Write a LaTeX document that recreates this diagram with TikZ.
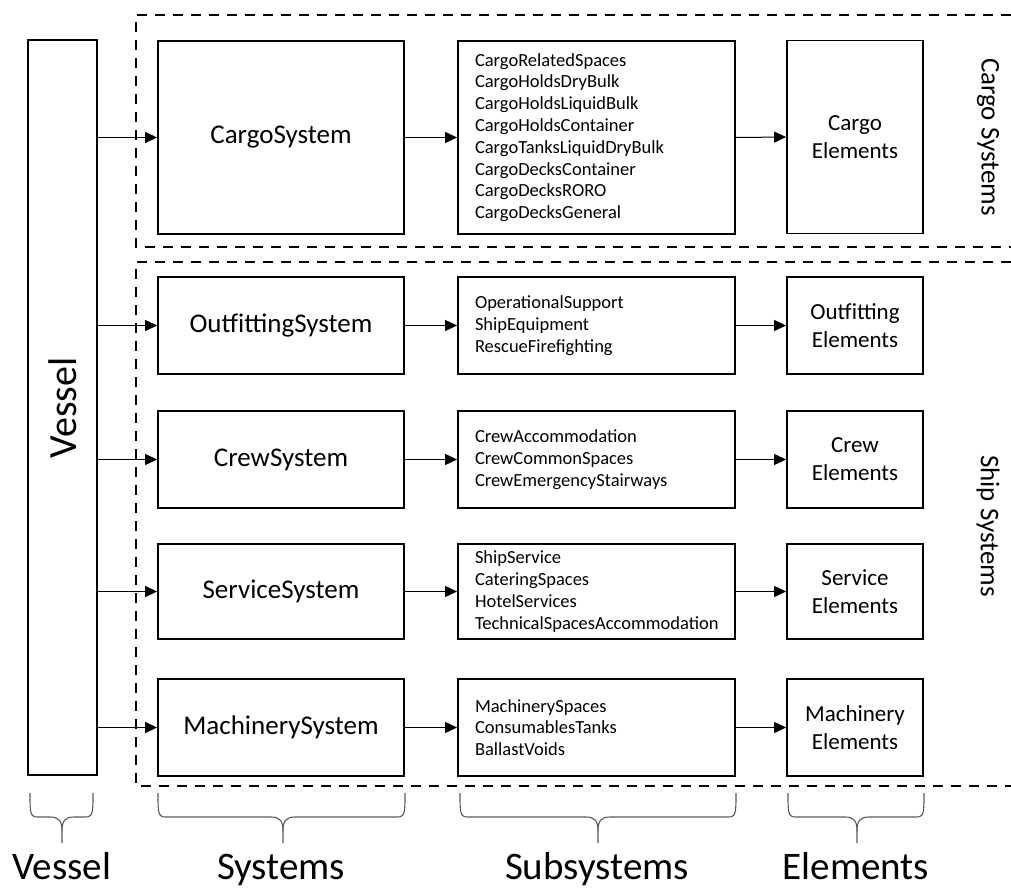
\documentclass[tikz,border=0pt]{standalone}
\usepackage{fontspec}
\setmainfont{Carlito}
\usetikzlibrary{arrows.meta}
\begin{document}
\begin{tikzpicture}[x=1pt,y=-1pt,
  sysbox/.style={draw, line width=1.8pt, minimum width=246pt, inner sep=0pt,
    font=\fontsize{27}{32}\selectfont},
  subbox/.style={draw, line width=1.8pt, inner xsep=17pt, inner ysep=0pt,
    text width=243pt, align=left, font=\fontsize{18.5}{21.8}\selectfont},
  elembox/.style={draw, line width=1.8pt, minimum width=136pt, inner sep=0pt,
    align=center, font=\fontsize{23}{28}\selectfont},
  link/.style={line width=1pt, -{Triangle[length=12pt,width=11pt]}},
  frame/.style={line width=1.6pt, dash pattern=on 10pt off 8pt},
  grp/.style={line width=1.1pt, black!65},
  colhead/.style={anchor=base, font=\fontsize{39}{44}\selectfont},
  sidehead/.style={rotate=-90, font=\fontsize{27}{32}\selectfont}]
\useasboundingbox (0,0) rectangle (1011,887);

% group frames (open on the right)
\draw[frame] (1011,15) -- (136,15) -- (136,247) -- (1011,247);
\draw[frame] (1011,262) -- (136,262) -- (136,786) -- (1011,786);
\node[sidehead] (cargolbl) at (988,137) {Cargo Systems};
\node[sidehead] (shiplbl) at (988,526) {Ship Systems};

% vessel
\node[draw, line width=1.8pt, minimum width=69pt, minimum height=735pt, inner sep=0pt]
  (vessel) at (62.5,407.5) {};
\node[rotate=90, font=\fontsize{40}{46}\selectfont] (vessellbl) at (63,408) {Vessel};

% systems
\node[sysbox, minimum height=193pt] (cs) at (281,137.5) {CargoSystem};
\node[sysbox, minimum height=97pt] (os) at (281,325.5) {OutfittingSystem};
\node[sysbox, minimum height=97pt] (crs) at (281,459.5) {CrewSystem};
\node[sysbox, minimum height=95pt] (ss) at (281,591.5) {ServiceSystem};
\node[sysbox, minimum height=97pt] (ms) at (281,727.5) {MachinerySystem};

% subsystems
\node[subbox, minimum height=193pt] (cl) at (596.5,137.5) {CargoRelatedSpaces\\CargoHoldsDryBulk\\CargoHoldsLiquidBulk\\CargoHoldsContainer\\CargoTanksLiquidDryBulk\\CargoDecksContainer\\CargoDecksRORO\\CargoDecksGeneral};
\node[subbox, minimum height=97pt] (ol) at (596.5,325.5) {OperationalSupport\\ShipEquipment\\RescueFirefighting};
\node[subbox, minimum height=97pt] (crl) at (596.5,459.5) {CrewAccommodation\\CrewCommonSpaces\\CrewEmergencyStairways};
\node[subbox, minimum height=95pt] (sl) at (596.5,591.5) {ShipService\\CateringSpaces\\HotelServices\\TechnicalSpacesAccommodation};
\node[subbox, minimum height=97pt] (ml) at (596.5,727.5) {MachinerySpaces\\ConsumablesTanks\\BallastVoids};

% elements
\node[elembox, minimum height=193pt] (ce) at (855,137) {Cargo\\Elements};
\node[elembox, minimum height=97pt] (oe) at (855,325.5) {Outfitting\\Elements};
\node[elembox, minimum height=97pt] (cre) at (855,459.5) {Crew\\Elements};
\node[elembox, minimum height=95pt] (se) at (855,591.5) {Service\\Elements};
\node[elembox, minimum height=97pt] (me) at (855,727.5) {Machinery\\Elements};

% connectors
\foreach \s/\l/\e in {cs/cl/ce, os/ol/oe, crs/crl/cre, ss/sl/se, ms/ml/me} {
  \draw[link] (vessel.east |- \s.west) -- (\s.west);
  \draw[link] (\s.east) -- (\l.west);
  \draw[link] (\l.east) -- (\e.west);
}

% column braces
\foreach \a/\b/\c in {30/93/62, 158/405/283, 460/736/598, 788/924/857} {
  \draw[grp] (\a,793) .. controls (\a,813) and (\a,817) .. (\a+8,817)
     -- (\c-12,817) .. controls (\c-3,817) and (\c,821) .. (\c,831) -- (\c,843);
  \draw[grp] (\b,793) .. controls (\b,813) and (\b,817) .. (\b-8,817)
     -- (\c+12,817) .. controls (\c+3,817) and (\c,821) .. (\c,831);
}

% column headings
\node[colhead] (h1) at (62,879) {Vessel};
\node[colhead] (h2) at (281,879) {Systems};
\node[colhead] (h3) at (597,879) {Subsystems};
\node[colhead] (h4) at (856,879) {Elements};
\end{tikzpicture}
\end{document}
